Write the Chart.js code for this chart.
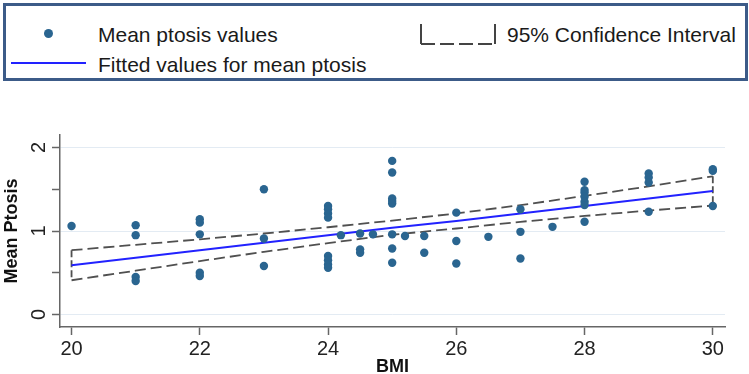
<!DOCTYPE html>
<html>
<head>
<meta charset="utf-8">
<script src="https://cdn.jsdelivr.net/npm/chart.js@4.4.1/dist/chart.umd.min.js"></script>
<style>
  body { margin: 0; background: #fff; font-family: "Liberation Sans", Arial, sans-serif; }
  #legenda {
    position: absolute; left: 3px; top: 3px; width: 745px; height: 78px;
    box-sizing: border-box; border: 3px solid #3c5b88; background: #fff; z-index: 2;
  }
  .item { position: absolute; font-size: 21px; color: #1a1a1a; white-space: nowrap; line-height: 21px; }
  #ponto { position: absolute; left: 37.5px; top: 22.5px; width: 9px; height: 9px; border-radius: 50%; background: #2a6590; }
  #linhaAzul { position: absolute; left: 5px; top: 56px; width: 75px; height: 2px; background: #2222ff; }
  #colchete { position: absolute; left: 413px; top: 17px; }
  #grafico { position: absolute; left: 0; top: 0; z-index: 1; }
</style>
</head>
<body>
<div id="legenda">
  <div id="ponto"></div>
  <div class="item" style="left:92px; top:18px;">Mean ptosis values</div>
  <svg id="colchete" width="80" height="24">
    <path d="M2 1 V21 M76 1 V21" stroke="#444" stroke-width="2" fill="none"/>
    <path d="M2 21 H76" stroke="#444" stroke-width="2" stroke-dasharray="14,5" fill="none"/>
  </svg>
  <div class="item" style="left:501px; top:18px;">95% Confidence Interval</div>
  <div id="linhaAzul"></div>
  <div class="item" style="left:92px; top:48px;">Fitted values for mean ptosis</div>
</div>
<canvas id="grafico" width="749" height="374"></canvas>
<script>
// Valores observados (BMI x ptose média)
const valoresBMI = [
  20,
  21, 21, 21, 21,
  22, 22, 22, 22, 22,
  23, 23, 23,
  24, 24, 24, 24, 24, 24, 24, 24,
  24.2,
  24.5, 24.5, 24.5,
  24.7,
  25, 25, 25, 25, 25, 25, 25, 25,
  25.2,
  25.5, 25.5,
  26, 26, 26,
  26.5,
  27, 27, 27,
  27.5,
  28, 28, 28, 28, 28, 28, 28,
  29, 29, 29, 29,
  30, 30, 30
];
const valoresPtose = [
  1.06,
  1.07, 0.95, 0.45, 0.40,
  1.14, 1.10, 0.96, 0.50, 0.46,
  1.50, 0.91, 0.58,
  1.30, 1.26, 1.21, 1.16, 0.70, 0.65, 0.60, 0.56,
  0.95,
  0.97, 0.78, 0.74,
  0.96,
  1.84, 1.70, 1.39, 1.36, 1.33, 0.96, 0.79, 0.62,
  0.94,
  0.94, 0.74,
  1.22, 0.88, 0.61,
  0.93,
  1.26, 0.99, 0.67,
  1.05,
  1.59, 1.49, 1.46, 1.41, 1.35, 1.31, 1.11,
  1.69, 1.64, 1.58, 1.23,
  1.74, 1.72, 1.30
];

// Reta ajustada e intervalo de confiança de 95%
const gradeBMI = [20, 21, 22, 23, 24, 25, 26, 27, 28, 29, 30];
const valoresAjustados = [0.59, 0.68, 0.77, 0.86, 0.95, 1.04, 1.12, 1.21, 1.30, 1.39, 1.48];
const limiteSuperior = [0.77, 0.835, 0.90, 0.97, 1.045, 1.125, 1.21, 1.31, 1.42, 1.535, 1.655];
const limiteInferior = [0.41, 0.525, 0.64, 0.75, 0.855, 0.955, 1.03, 1.11, 1.18, 1.245, 1.305];

// Marcas dos eixos
const ticksX = [20, 22, 24, 26, 28, 30];
const ticksY = [0, 0.5, 1, 1.5, 2];
const rotulosY = ['0', '', '1', '', '2'];

const corPontos = '#2a6590';
const corTracejado = '#505050';
const fonteTicks = '"Liberation Sans Narrow", "Liberation Sans", Arial, sans-serif';

const pontos = valoresBMI.map((x, i) => ({ x: x, y: valoresPtose[i] }));
const paraXY = serie => gradeBMI.map((x, i) => ({ x: x, y: serie[i] }));
const ultimo = gradeBMI.length - 1;

// Rótulos do eixo Y girados (estilo Stata)
const rotulosGirados = {
  id: 'rotulosGirados',
  afterDraw(chart) {
    const escala = chart.scales.y;
    const ctx = chart.ctx;
    ctx.save();
    ctx.font = '20px ' + fonteTicks;
    ctx.fillStyle = '#222';
    ctx.textAlign = 'center';
    ctx.textBaseline = 'middle';
    ticksY.forEach((v, i) => {
      if (!rotulosY[i]) return;
      ctx.save();
      ctx.translate(39, escala.getPixelForValue(v));
      ctx.rotate(-Math.PI / 2);
      ctx.fillText(rotulosY[i], 0, 0);
      ctx.restore();
    });
    ctx.restore();
  }
};

const tracejado = {
  type: 'line', showLine: true, borderColor: corTracejado, borderWidth: 1.8,
  borderDash: [11, 5], pointRadius: 0, fill: false, order: 2
};

new Chart(document.getElementById('grafico').getContext('2d'), {
  type: 'scatter',
  data: {
    datasets: [
      { label: 'Mean ptosis values', data: pontos, backgroundColor: corPontos,
        borderWidth: 0, pointRadius: 4.2, order: 0 },
      { label: 'Fitted values for mean ptosis', type: 'line', data: paraXY(valoresAjustados),
        borderColor: '#2222ff', borderWidth: 2, pointRadius: 0, fill: false, order: 1 },
      Object.assign({ label: 'IC sup', data: paraXY(limiteSuperior) }, tracejado),
      Object.assign({ label: 'IC inf', data: paraXY(limiteInferior) }, tracejado),
      Object.assign({ label: 'IC esq', data: [
        { x: gradeBMI[0], y: limiteSuperior[0] }, { x: gradeBMI[0], y: limiteInferior[0] }] }, tracejado, { borderDash: [7, 3] }),
      Object.assign({ label: 'IC dir', data: [
        { x: gradeBMI[ultimo], y: limiteSuperior[ultimo] }, { x: gradeBMI[ultimo], y: limiteInferior[ultimo] }] }, tracejado, { borderDash: [7, 3] })
    ]
  },
  options: {
    responsive: false,
    animation: false,
    layout: { padding: { top: 135, right: 24, left: 0, bottom: 0 } },
    plugins: { legend: { display: false }, tooltip: { enabled: false } },
    scales: {
      x: {
        type: 'linear', min: 19.82, max: 30.19,
        afterBuildTicks: escala => { escala.ticks = ticksX.map(v => ({ value: v })); },
        afterFit: escala => { escala.height = 47; },
        border: { color: '#666', width: 1.5 },
        grid: { drawOnChartArea: false, tickLength: 8, tickColor: '#666', tickWidth: 1.5 },
        ticks: { color: '#222', font: { family: fonteTicks, size: 20 }, padding: 2, maxRotation: 0 },
        title: { display: true, text: 'BMI', color: '#111',
          font: { family: '"Liberation Sans", Arial, sans-serif', size: 18, weight: 'bold', lineHeight: 0.8 },
          padding: { top: 0, bottom: 0 } }
      },
      y: {
        type: 'linear', min: -0.15, max: 2.15,
        afterBuildTicks: escala => { escala.ticks = ticksY.map(v => ({ value: v })); },
        afterFit: escala => { escala.width = 60; },
        border: { color: '#666', width: 1.5 },
        grid: {
          color: c => (c.tick && Number.isInteger(c.tick.value)) ? '#e3ebf3' : 'rgba(0,0,0,0)',
          tickLength: 8, tickColor: '#666', tickWidth: 1.5
        },
        ticks: { display: false },
        title: { display: true, text: 'Mean Ptosis', color: '#111',
          font: { family: '"Liberation Sans", Arial, sans-serif', size: 18, weight: 'bold' },
          padding: { top: 1, bottom: 0 } }
      }
    }
  },
  plugins: [rotulosGirados]
});
</script>
</body>
</html>
